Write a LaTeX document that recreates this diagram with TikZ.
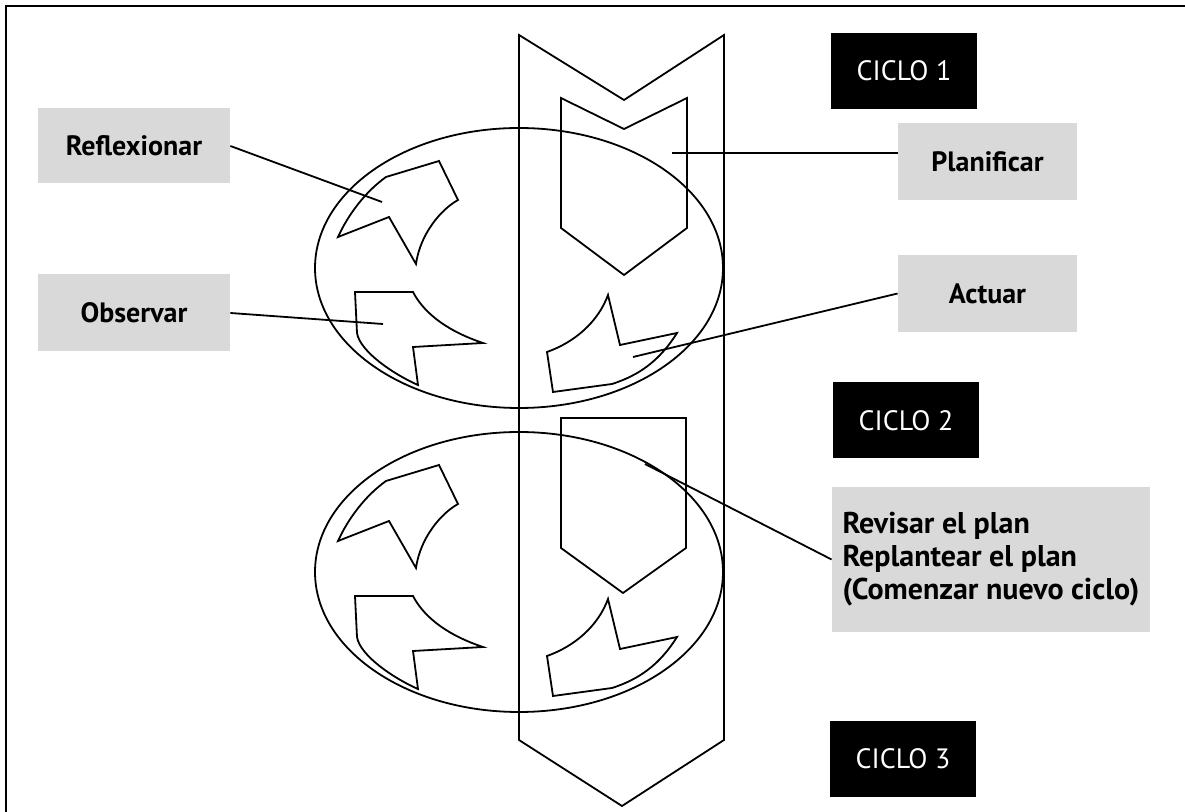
\documentclass[tikz,border=0pt]{standalone}
\usepackage{fontspec}
\setmainfont{PT Sans}
\usetikzlibrary{calc}
\begin{document}
\begin{tikzpicture}[x=0.5pt,y=-0.5pt,
	forma/.style={line width=0.9pt,line join=miter},
	etiq/.style={fill=black!15,font=\bfseries\fontsize{14}{18}\selectfont,minimum width=89.5pt,minimum height=38.5pt,inner sep=2pt},
	ciclo/.style={fill=black,text=white,font=\fontsize{14}{16}\selectfont,minimum width=73pt,minimum height=38pt}]
\useasboundingbox (0,0) rectangle (1185,812);
\draw[line width=1.4pt] (6,812) -- (6,6) -- (1185,6);
\draw[forma] (519,35) -- (624,100) -- (724,35) -- (724,740) -- (622,806) -- (519,740) -- cycle;
\foreach \dy in {0,304} {
	\draw[forma] (519,268+\dy) ellipse [x radius=204, y radius=140];
	\begin{scope}[shift={(0,\dy)}]
	\draw[forma] (338,237) .. controls (348,215) and (365,192) .. (386,177) -- (439,161) -- (458,200)
		.. controls (440,210) and (420,235) .. (416,264) -- (389,217) -- cycle;
	\draw[forma] (355,292) -- (413,292) .. controls (425,315) and (450,332) .. (483,343) -- (413,347) -- (418,385)
		.. controls (395,375) and (360,352) .. (357,333) -- cycle;
	\draw[forma] (608,295) -- (620,345) -- (677,333) .. controls (660,360) and (640,375) .. (612,384) -- (553,392) -- (547,352)
		.. controls (575,342) and (598,322) .. (608,295) -- cycle;
	\end{scope}
}
\draw[forma] (561,98) -- (624,129) -- (687,98) -- (687,228) -- (624,275) -- (561,228) -- cycle;
\draw[forma] (561,418) -- (686,418) -- (686,548) -- (623,593) -- (561,548) -- cycle;

\draw (134,146) node[etiq,minimum width=96pt,minimum height=37.5pt] (refl) {Reflexionar};
\draw (134,313) node[etiq,minimum width=96pt,minimum height=38.5pt] (obs) {Observar};
\draw (987.5,161.5) node[etiq] (plan) {Planificar};
\draw (987.5,293.5) node[etiq] (act) {Actuar};
\draw (991,559.5) node[etiq,minimum width=159pt,minimum height=72.5pt,align=left,font=\bfseries\fontsize{15}{16.5}\selectfont] (rev) {Revisar el plan\\Replantear el plan\\(Comenzar nuevo ciclo)};
\draw (904,71) node[ciclo] (c1) {CICLO 1};
\draw (906,420.5) node[ciclo] (c2) {CICLO 2};
\draw (903,759) node[ciclo] (c3) {CICLO 3};

\coordinate (refl-in) at (382,202);
\coordinate (obs-in) at (383,324);
\coordinate (plan-in) at (672,153);
\coordinate (act-in) at (633,357);
\coordinate (rev-in) at (645,464);
\draw[forma] (refl.east) -- (refl-in);
\draw[forma] (obs.east) -- (obs-in);
\draw[forma] (plan-in) -- (plan-in -| plan.west);
\draw[forma] (act.west) -- (act-in);
\draw[forma] (rev.west) -- (rev-in);
\end{tikzpicture}
\end{document}
